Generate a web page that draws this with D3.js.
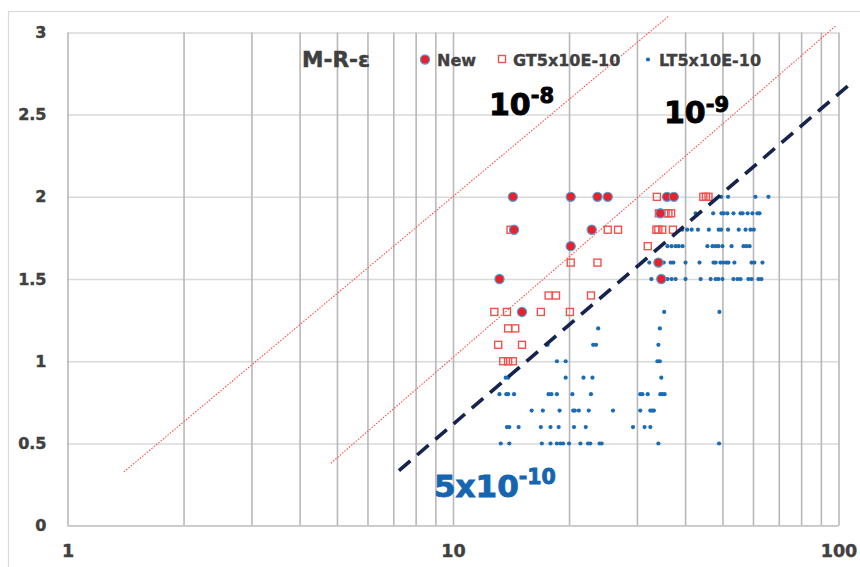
<!DOCTYPE html>
<html>
<head>
<meta charset="utf-8">
<script src="https://cdn.jsdelivr.net/npm/d3@7"></script>
<style>
  html, body { margin: 0; padding: 0; background: #fff; }
  svg { display: block; }
  text { font-family: "DejaVu Sans", Verdana, sans-serif; font-weight: bold; }
</style>
</head>
<body>
<div id="chart"></div>
<script>
// ---------- data ----------
const xTicks = [1, 10, 100];
const xGrid = [1,2,3,4,5,6,7,8,9,10,20,30,40,50,60,70,80,90,100];
const yTicks = [0, 0.5, 1, 1.5, 2, 2.5, 3];

// "New" series (red dots with blue outline)
const newPoints = [
  [14.3,2.0],[20.2,2.0],[23.7,2.0],[25.2,2.0],[35.9,2.0],[37.4,2.0],
  [34.5,1.9],
  [14.4,1.8],[22.9,1.8],
  [20.2,1.7],
  [34.1,1.6],
  [13.2,1.5],[34.7,1.5],
  [15.1,1.3]
];

// "GT5x10E-10" series (open red squares)
const gtPoints = [
  [33.8,2.0],[44.6,2.0],[45.3,2.0],[46.0,2.0],
  [34.2,1.9],[35.6,1.9],[36.2,1.9],[36.8,1.9],
  [14.1,1.8],[25.2,1.8],[26.8,1.8],[33.7,1.8],[34.1,1.8],[34.9,1.8],[37.2,1.8],
  [32.0,1.7],
  [20.2,1.6],[23.7,1.6],
  [17.7,1.4],[18.5,1.4],[22.8,1.4],
  [12.8,1.3],[13.8,1.3],[16.9,1.3],[20.1,1.3],
  [13.9,1.2],[14.5,1.2],
  [13.1,1.1],[15.1,1.1],
  [13.5,1.0],[13.9,1.0],[14.3,1.0]
];

// "LT5x10E-10" series (small blue dots), grouped by row
const ltRowY = [2.0, 1.9, 1.8, 1.7, 1.6, 1.5, 1.3, 1.2, 1.1, 1.0, 0.9, 0.8, 0.7, 0.6, 0.5];
const ltRowX = [
  [49.6,51.7,60.9,65.8],
  [42.6,47.3,49.7,50.4,51.5,53.4,55.7,56.4,58.1,59.8,61.6,62.4],
  [39.3,40.5,41.6,43.2,46.1,48.9,49.6,51.7,55.1,57.4,59.1,60.3],
  [36.0,36.9,37.8,38.5,39.4,45.7,47.1,48.0,48.8,50.0,52.8,56.7,57.7,58.8],
  [32.3,35.2,36.7,37.3,40.1,43.6,47.4,48.0,49.4,50.3,51.2,51.8,53.7,59.5,60.5,63.5],
  [32.7,36.0,36.9,37.8,40.1,43.9,46.6,48.0,48.8,50.0,53.4,54.7,55.7,58.4,59.5,62.0,63.1],
  [35.3,49.1],
  [23.8,34.4],
  [17.6,23.1,23.5,34.1],
  [18.6,19.6,33.9,34.4],
  [13.7,13.9,19.6,21.8,23.0,34.7],
  [13.2,13.75,13.9,14.4,17.7,18.0,18.6,20.4,22.8,30.6,31.0,32.0,34.5,34.9,35.4],
  [16.0,17.1,18.9,20.5,20.7,21.2,22.5,26.0,30.6,32.5,32.9,33.2],
  [13.8,14.0,14.8,16.9,17.9,18.8,20.6,22.1,29.3,31.4,32.5],
  [13.3,14.0,17.0,17.9,18.6,19.0,19.3,20.0,21.4,22.4,22.7,24.0,24.3,34.1,49.0]
];

// guide lines
const line1e8 = [[1.40, 0.327], [36.3, 3.10]];
const line1e9 = [[4.82, 0.38], [98.4, 3.04]];
const line5e10 = [[7.24, 0.335], [109.7, 2.707]];

const legendLabels = ["New", "GT5x10E-10", "LT5x10E-10"];
const titleText = "M-R-ε";

// ---------- drawing ----------
const W = 860, H = 567;
const svg = d3.select("#chart").append("svg").attr("width", W).attr("height", H);

// outer frame
svg.append("rect").attr("x", 8.5).attr("y", 11.5).attr("width", 900).attr("height", 700)
  .attr("fill", "#fff").attr("stroke", "#d9d9d9").attr("stroke-width", 1.2);

const x = d3.scaleLog().domain([1, 100]).range([67.5, 838.5]);
const y = d3.scaleLinear().domain([0, 3]).range([525.7, 32.4]);

// horizontal gridlines
svg.append("g").attr("transform", `translate(${x.range()[0]},0)`)
  .call(d3.axisLeft(y).tickValues(yTicks).tickSize(-(x.range()[1] - x.range()[0])).tickFormat(""))
  .call(g => g.select(".domain").remove())
  .call(g => g.selectAll("line").attr("stroke", "#d9d9d9").attr("stroke-width", 1.5));

// vertical gridlines
svg.append("g").attr("transform", `translate(0,${y(0)})`)
  .call(d3.axisBottom(x).tickValues(xGrid).tickSize(-(y(0) - y(3))).tickFormat(""))
  .call(g => g.select(".domain").remove())
  .call(g => g.selectAll("line").attr("stroke", "#b8b8b8").attr("stroke-width", 1.6));

// bottom axis line
svg.append("line").attr("x1", x(1)).attr("x2", x(100)).attr("y1", y(0)).attr("y2", y(0))
  .attr("stroke", "#c8c8c8").attr("stroke-width", 1.5);

// y tick labels
svg.append("g").attr("transform", `translate(${x.range()[0]},0)`)
  .call(d3.axisLeft(y).tickValues(yTicks).tickSize(0).tickPadding(21).tickFormat(d => String(d)))
  .call(g => g.select(".domain").remove())
  .call(g => g.selectAll("text").attr("font-size", 16).attr("fill", "#404040")
    .attr("stroke", "#404040").attr("stroke-width", 0.4)
    .attr("font-family", "DejaVu Sans").attr("font-weight", "bold"));

// x tick labels
svg.append("g").attr("transform", `translate(0,${y(0)})`)
  .call(d3.axisBottom(x).tickValues(xTicks).tickSize(0).tickPadding(19).tickFormat(d => String(d)))
  .call(g => g.select(".domain").remove())
  .call(g => g.selectAll("text").attr("font-size", 17.5).attr("fill", "#404040")
    .attr("stroke", "#404040").attr("stroke-width", 0.4)
    .attr("font-family", "DejaVu Sans").attr("font-weight", "bold"));

// LT dots
const ltPoints = [];
ltRowY.forEach((yy, i) => ltRowX[i].forEach(xx => ltPoints.push([xx, yy])));
svg.append("g").selectAll("circle").data(ltPoints).join("circle")
  .attr("cx", d => x(d[0])).attr("cy", d => y(d[1])).attr("r", 2.1)
  .attr("fill", "#1b6cb5");

// GT squares
const sq = 7;
svg.append("g").selectAll("rect").data(gtPoints).join("rect")
  .attr("x", d => x(d[0]) - sq / 2).attr("y", d => y(d[1]) - sq / 2)
  .attr("width", sq).attr("height", sq)
  .attr("fill", "none").attr("stroke", "#f0524f").attr("stroke-width", 1.4);

// New circles
svg.append("g").selectAll("circle").data(newPoints).join("circle")
  .attr("cx", d => x(d[0])).attr("cy", d => y(d[1])).attr("r", 4.6)
  .attr("fill", "#e8222a").attr("stroke", "#4aa3df").attr("stroke-width", 1.2);

// guide lines
const lineGen = d3.line().x(d => x(d[0])).y(d => y(d[1]));
[line1e8, line1e9].forEach(l => {
  svg.append("path").attr("d", lineGen(l)).attr("fill", "none")
    .attr("stroke", "#ff4c4c").attr("stroke-width", 1.1).attr("stroke-dasharray", "1.5,1.5");
});
svg.append("path").attr("d", lineGen(line5e10)).attr("fill", "none")
  .attr("stroke", "#15244c").attr("stroke-width", 3.6).attr("stroke-dasharray", "15,9");

// title
svg.append("text").attr("x", 302).attr("y", 66.5).attr("font-size", 22).attr("fill", "#404040")
  .attr("stroke", "#404040").attr("stroke-width", 0.5)
  .attr("textLength", 68).attr("lengthAdjust", "spacingAndGlyphs")
  .text(titleText);

// legend
const lg = svg.append("g");
lg.append("circle").attr("cx", 425).attr("cy", 59.5).attr("r", 4.6)
  .attr("fill", "#e8222a").attr("stroke", "#4aa3df").attr("stroke-width", 1.2);
lg.append("rect").attr("x", 502 - sq / 2).attr("y", 59 - sq / 2).attr("width", sq).attr("height", sq)
  .attr("fill", "none").attr("stroke", "#f0524f").attr("stroke-width", 1.4);
lg.append("circle").attr("cx", 648).attr("cy", 59.5).attr("r", 2.1).attr("fill", "#1b6cb5");
const legX = [437, 513, 659];
legendLabels.forEach((t, i) => {
  lg.append("text").attr("x", legX[i]).attr("y", 65.5).attr("font-size", 16).attr("fill", "#404040")
    .attr("stroke", "#404040").attr("stroke-width", 0.35).text(t);
});

// annotations
function powerLabel(px, py, base, exp, size, expSize, rise, color) {
  const t = svg.append("text").attr("x", px).attr("y", py).attr("fill", color)
    .attr("stroke", color).attr("stroke-width", 0.9);
  t.append("tspan").attr("font-size", size).text(base);
  t.append("tspan").attr("font-size", expSize).attr("dy", -rise).text(exp);
}
powerLabel(489, 115, "10", "-8", 30, 21, 12, "#000");
powerLabel(664, 123, "10", "-9", 30, 21, 11, "#000");
powerLabel(434, 497, "5x10", "-10", 31, 20.5, 13, "#1565b0");
</script>
</body>
</html>
